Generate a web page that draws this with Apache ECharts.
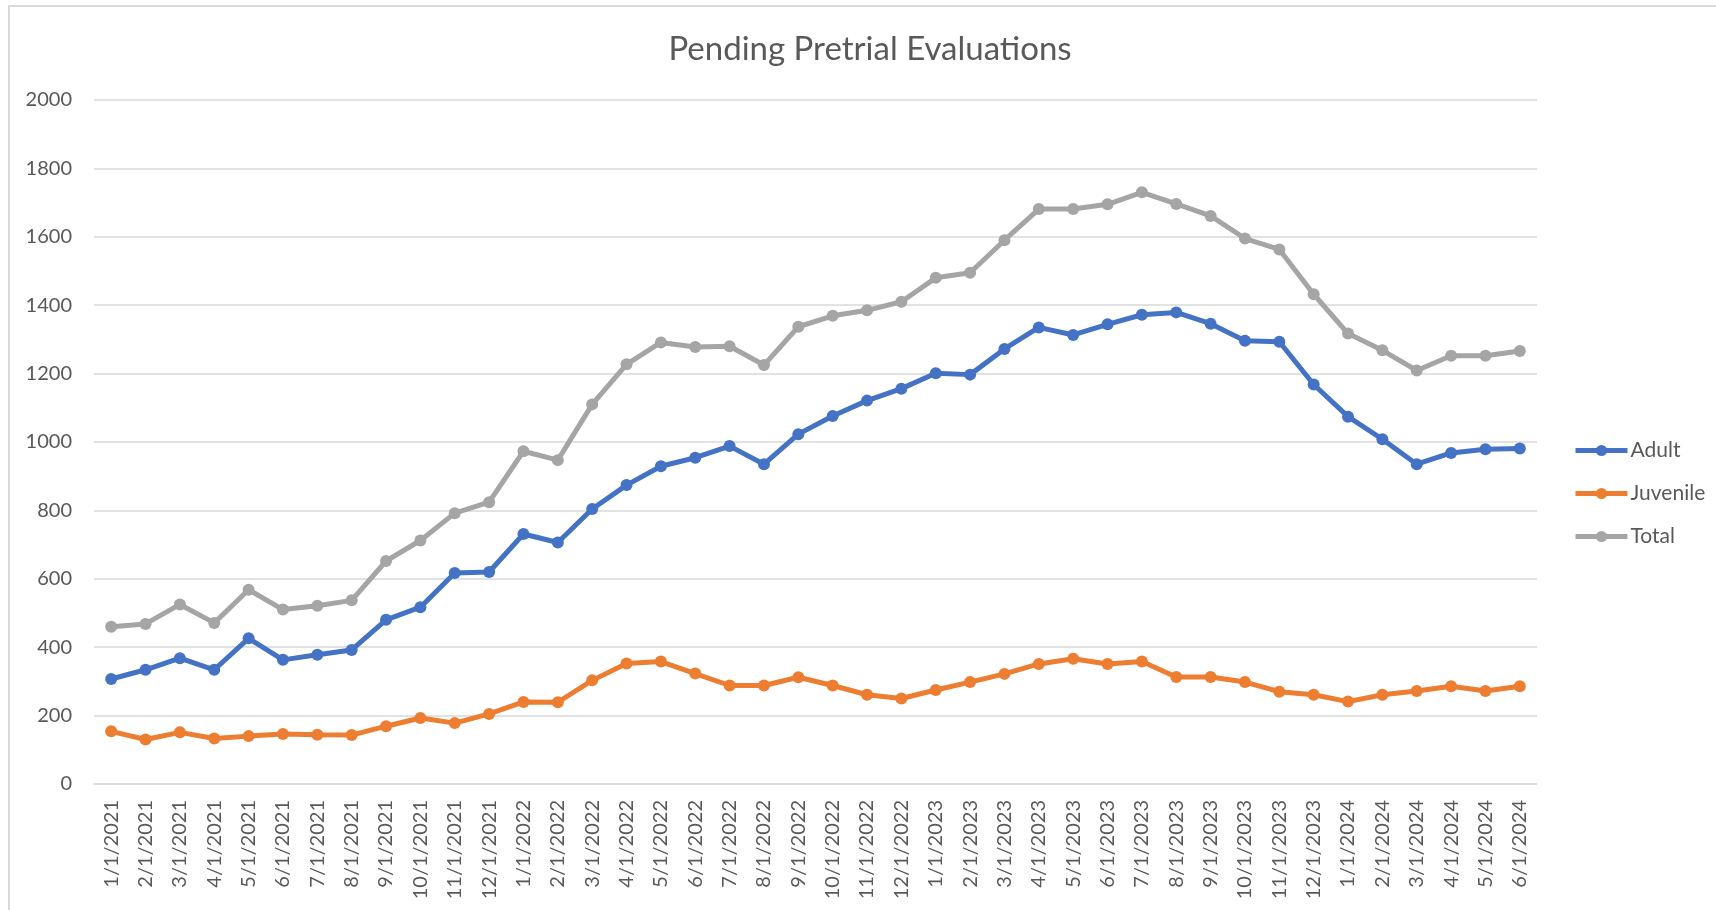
<!DOCTYPE html>
<html>
<head>
<meta charset="utf-8">
<title>Pending Pretrial Evaluations</title>
<script src="https://cdn.jsdelivr.net/npm/echarts@6/dist/echarts.min.js"></script>
<style>
    html, body { margin: 0; padding: 0; background: #fff; }
    .frame { position: absolute; left: 8px; top: 5px; width: 1800px; height: 1000px; border: 2px solid #d9d9d9; box-sizing: border-box; }
    .chart { position: absolute; left: 0; top: 0; width: 1716px; height: 910px; }
</style>
</head>
<body>
<div class="frame"></div>
<div class="chart"></div>
<script>
// 月份
var months = ['1/1/2021','2/1/2021','3/1/2021','4/1/2021','5/1/2021','6/1/2021','7/1/2021','8/1/2021','9/1/2021','10/1/2021','11/1/2021','12/1/2021',
    '1/1/2022','2/1/2022','3/1/2022','4/1/2022','5/1/2022','6/1/2022','7/1/2022','8/1/2022','9/1/2022','10/1/2022','11/1/2022','12/1/2022',
    '1/1/2023','2/1/2023','3/1/2023','4/1/2023','5/1/2023','6/1/2023','7/1/2023','8/1/2023','9/1/2023','10/1/2023','11/1/2023','12/1/2023',
    '1/1/2024','2/1/2024','3/1/2024','4/1/2024','5/1/2024','6/1/2024'];

var adult = [307, 334, 368, 334, 426, 363, 378, 392, 480, 517, 617, 620,
    731, 706, 804, 874, 929, 954, 988, 935, 1023, 1076, 1121, 1156,
    1201, 1197, 1272, 1335, 1313, 1344, 1372, 1379, 1346, 1296, 1293, 1168,
    1074, 1008, 935, 968, 979, 981];

var juvenile = [154, 130, 151, 133, 140, 146, 144, 143, 169, 193, 178, 205,
    240, 239, 303, 352, 358, 323, 288, 288, 312, 288, 261, 250,
    275, 298, 322, 351, 366, 351, 358, 313, 313, 298, 270, 261,
    241, 261, 272, 286, 272, 286];

var total = [460, 468, 525, 471, 568, 510, 521, 537, 652, 712, 792, 824,
    973, 947, 1110, 1227, 1291, 1278, 1280, 1225, 1337, 1369, 1385, 1410,
    1480, 1495, 1590, 1681, 1681, 1695, 1730, 1696, 1661, 1595, 1563, 1432,
    1317, 1268, 1209, 1252, 1252, 1266];

var yTicks = [0, 200, 400, 600, 800, 1000, 1200, 1400, 1600, 1800, 2000];

var font = 'Lato';
var textColor = '#595959';

function lineSeries(name, data, color) {
    return {
        name: name,
        type: 'line',
        data: data,
        symbol: 'circle',
        symbolSize: 12,
        lineStyle: { width: 5, color: color },
        itemStyle: { color: color },
        emphasis: { disabled: true }
    };
}

var myChart = echarts.init(document.querySelector('.chart'));

var option = {
    animation: false,
    title: {
        text: 'Pending Pretrial Evaluations',
        left: 865,
        top: 28,
        textAlign: 'center',
        textStyle: { fontFamily: font, fontSize: 33, fontWeight: 'normal', color: textColor }
    },
    legend: {
        orient: 'vertical',
        left: 1573,
        top: 440,
        padding: 0,
        itemWidth: 52,
        itemHeight: 14,
        itemGap: 22,
        lineStyle: { width: 5 },
        textStyle: { fontFamily: font, fontSize: 21, color: textColor, padding: [0, 0, 0, -2] },
        data: ['Adult', 'Juvenile', 'Total']
    },
    grid: {
        left: 94,
        right: 179,
        top: 100,
        bottom: 126
    },
    xAxis: {
        type: 'category',
        data: months,
        boundaryGap: true,
        axisLine: { lineStyle: { color: '#d9d9d9', width: 1.5 } },
        axisTick: { show: false },
        axisLabel: {
            rotate: 90,
            margin: 16,
            interval: 0,
            fontFamily: font,
            fontSize: 20,
            color: textColor
        }
    },
    yAxis: {
        type: 'value',
        min: yTicks[0],
        max: yTicks[yTicks.length - 1],
        interval: yTicks[1] - yTicks[0],
        axisLine: { show: false },
        axisTick: { show: false },
        axisLabel: {
            margin: 22,
            fontFamily: font,
            fontSize: 20,
            color: textColor,
            formatter: function (v) { return String(v); }
        },
        splitLine: { lineStyle: { color: '#d9d9d9', width: 1.5 } }
    },
    series: [
        lineSeries('Adult', adult, '#4472C4'),
        lineSeries('Juvenile', juvenile, '#ED7D31'),
        lineSeries('Total', total, '#A5A5A5')
    ]
};

myChart.setOption(option);
</script>
</body>
</html>
